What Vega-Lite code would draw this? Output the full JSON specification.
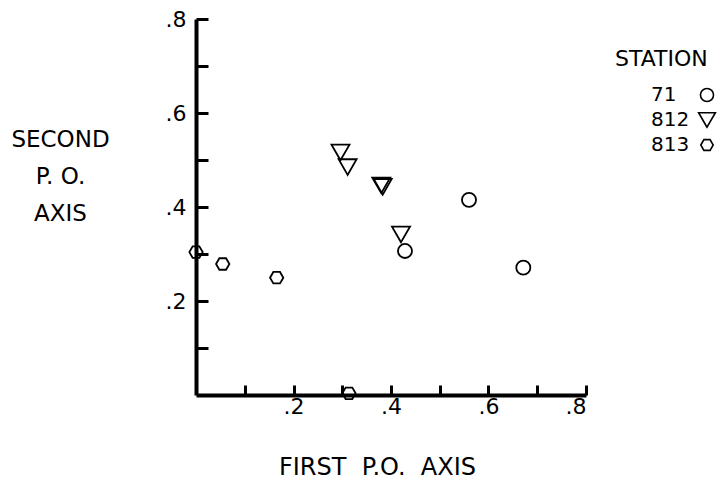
{
  "$schema": "https://vega.github.io/schema/vega-lite/v6.json",
  "width": 390,
  "height": 376,
  "autosize": {"type": "none"},
  "padding": {"left": 196, "top": 19, "right": 142, "bottom": 90},
  "background": "white",
  "config": {
    "view": {"stroke": null},
    "font": "DejaVu Sans",
    "axis": {
      "grid": false,
      "domainColor": "black",
      "domainWidth": 4,
      "tickColor": "black",
      "tickWidth": 3,
      "labelColor": "black",
      "labelFont": "DejaVu Sans",
      "labelFontSize": 22,
      "titleColor": "black",
      "titleFont": "DejaVu Sans",
      "titleFontSize": 23,
      "titleFontWeight": "normal"
    },
    "legend": {
      "orient": "none",
      "legendX": 419,
      "legendY": 30,
      "titleFont": "DejaVu Sans",
      "titleFontSize": 22,
      "titleFontWeight": "normal",
      "titleColor": "black",
      "labelFont": "DejaVu Sans",
      "labelFontSize": 20,
      "labelColor": "black",
      "labelAlign": "left",
      "symbolStrokeColor": "black",
      "symbolFillColor": "transparent",
      "symbolStrokeWidth": 1.6,
      "symbolSize": 280,
      "symbolOffset": 82,
      "labelOffset": -66,
      "rowPadding": 4,
      "titlePadding": 14
    }
  },
  "data": {
    "values": [
      {"station": "71", "x": 0.4287, "y": 0.3064},
      {"station": "71", "x": 0.5600, "y": 0.4150},
      {"station": "71", "x": 0.6714, "y": 0.2709},
      {"station": "812", "x": 0.2964, "y": 0.5160},
      {"station": "812", "x": 0.3110, "y": 0.4850},
      {"station": "812", "x": 0.3800, "y": 0.4460},
      {"station": "812", "x": 0.3830, "y": 0.4430},
      {"station": "812", "x": 0.4205, "y": 0.3415},
      {"station": "813", "x": 0.0000, "y": 0.3040},
      {"station": "813", "x": 0.0548, "y": 0.2787},
      {"station": "813", "x": 0.1655, "y": 0.2496},
      {"station": "813", "x": 0.3138, "y": 0.0036}
    ]
  },
  "mark": {"type": "point", "filled": false, "stroke": "black", "strokeWidth": 1.8, "size": 324, "clip": false, "opacity": 1},
  "encoding": {
    "x": {
      "field": "x", "type": "quantitative",
      "scale": {"domain": [0, 0.8], "nice": false, "zero": false},
      "axis": {
        "values": [0.1, 0.2, 0.3, 0.4, 0.5, 0.6, 0.7, 0.8],
        "tickSize": -10,
        "labelPadding": 11,
        "labelExpr": "(round(datum.value*10) % 2 == 0) ? replace(format(datum.value, '.1f'), '0.', '.') : ''",
        "title": "FIRST\u00a0\u00a0P.O.\u00a0\u00a0AXIS",
        "titleFontSize": 24,
        "titleX": 181,
        "titleY": 72,
        "titleBaseline": "middle"
      }
    },
    "y": {
      "field": "y", "type": "quantitative",
      "scale": {"domain": [0, 0.8], "nice": false, "zero": false},
      "axis": {
        "values": [0.1, 0.2, 0.3, 0.4, 0.5, 0.6, 0.7, 0.8],
        "tickSize": -12,
        "labelPadding": 22,
        "labelExpr": "(round(datum.value*10) % 2 == 0) ? replace(format(datum.value, '.1f'), '0.', '.') : ''",
        "title": ["SECOND", "P. O.", "AXIS"],
        "titleAngle": 0,
        "titleAlign": "center",
        "titleBaseline": "top",
        "titleX": -136,
        "titleY": 109,
        "titleLineHeight": 37
      }
    },
    "shape": {
      "field": "station", "type": "nominal",
      "scale": {
        "domain": ["71", "812", "813"],
        "range": [
          "M0.78,0A0.78,0.78,0,1,1,-0.78,0A0.78,0.78,0,1,1,0.78,0Z",
          "triangle-down",
          "M-0.74,0L-0.37,-0.64L0.37,-0.64L0.74,0L0.37,0.64L-0.37,0.64Z"
        ]
      },
      "legend": {"title": "STATION"}
    }
  }
}
